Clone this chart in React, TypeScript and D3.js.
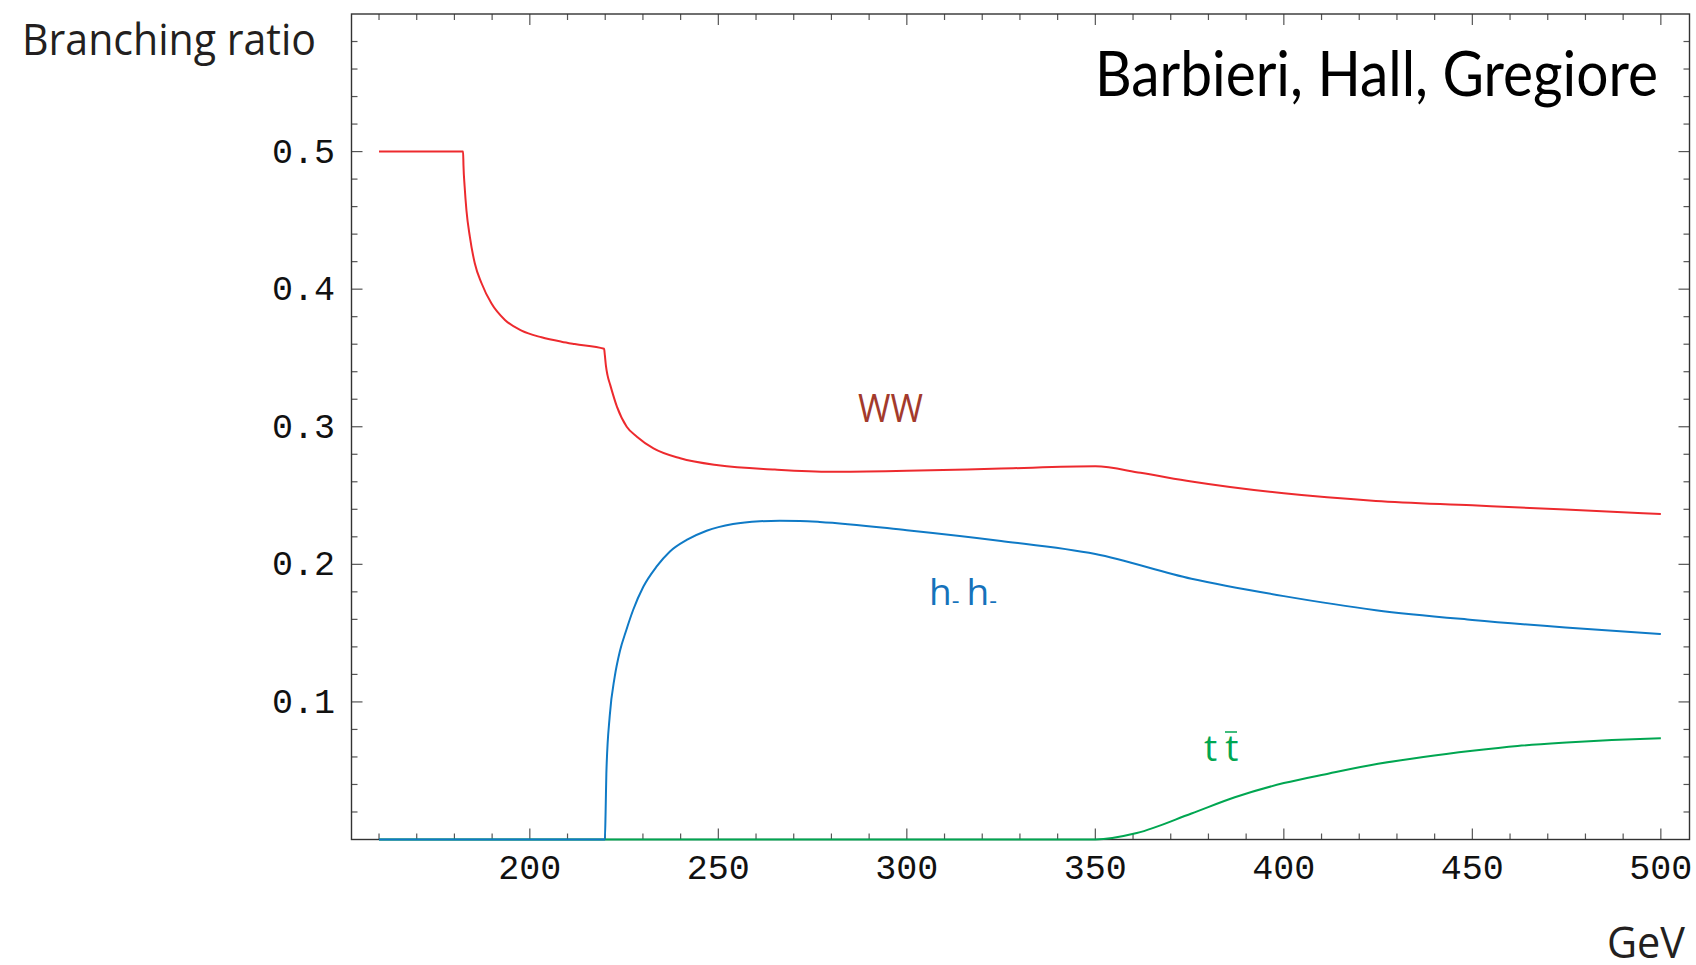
import React from 'react';
import * as d3 from 'd3';

// (GeV, branching ratio)
const wwMass = [160, 182.3, 182.4, 182.7, 183.2, 184.1, 185.4, 187.2, 189.8, 193.4, 197.8, 203.1, 208.4, 211.9, 219.7, 219.9, 220.2, 220.6, 221.3, 223.1, 225.7, 228.4, 232.8, 239.9, 250, 265, 280, 300, 325, 350, 362, 375.5, 400, 424.4, 450, 474.7, 500];
const wwRatio = [0.5, 0.5, 0.49, 0.475, 0.457, 0.438, 0.4188, 0.4043, 0.3897, 0.3776, 0.3698, 0.365, 0.3618, 0.3601, 0.3567, 0.352, 0.344, 0.3375, 0.3306, 0.3146, 0.3, 0.2928, 0.2843, 0.2771, 0.272, 0.2689, 0.2673, 0.268, 0.2696, 0.2712, 0.2665, 0.2602, 0.2516, 0.2461, 0.2429, 0.2398, 0.2366];

const hhMass = [160, 219.9, 220.1, 220.3, 221.2, 222.5, 223.9, 225.6, 227.4, 230.1, 233.6, 237.1, 241.6, 246.9, 253.9, 261, 266.3, 271.6, 276.9, 300, 325, 350, 375.5, 400, 424.4, 450, 474.7, 500];
const hhRatio = [0, 0, 0.02, 0.048, 0.09, 0.118, 0.137, 0.1523, 0.1668, 0.1837, 0.1983, 0.2092, 0.2177, 0.2244, 0.2293, 0.2313, 0.2317, 0.2315, 0.2308, 0.2248, 0.217, 0.2075, 0.1895, 0.1769, 0.1667, 0.1596, 0.1541, 0.1494];

const ttMass = [160, 350, 361, 375.5, 387, 400, 412, 425, 437, 450, 462, 475, 487, 500];
const ttRatio = [0, 0, 0.0047, 0.0189, 0.0307, 0.041, 0.048, 0.055, 0.06, 0.0645, 0.068, 0.0705, 0.0723, 0.0736];

const xTickLabels = [200, 250, 300, 350, 400, 450, 500];
const yTickLabels = [0.1, 0.2, 0.3, 0.4, 0.5];

const W = 1696;
const H = 965;
const left = 351.5, right = 1689.5, top = 14, bottom = 839.5;

export default function App() {
  const x = d3.scaleLinear().domain([152.7, 507.6]).range([left, right]);
  const y = d3.scaleLinear().domain([0, 0.6]).range([bottom, top]);

  const line = d3.line<[number, number]>()
    .x(d => x(d[0]))
    .y(d => y(d[1]))
    .curve(d3.curveMonotoneX);

  const zip = (a: number[], b: number[]) => a.map((m, i) => [m, b[i]] as [number, number]);

  const xMinor = d3.range(160, 501, 10);
  const yMinor = d3.range(1, 30).map(i => i * 0.02);

  const tickColor = '#555';
  const mono = "'Liberation Mono', 'DejaVu Sans Mono', monospace";
  const sans = "'Open Sans', 'Noto Sans', sans-serif";

  return (
    <svg width={W} height={H} style={{ position: 'absolute', left: 0, top: 0, background: '#fff' }}>
      <rect x={0} y={0} width={W} height={H} fill="#fff" />

      {/* ticks, bottom and top */}
      {xMinor.map(v => {
        const len = v % 50 === 0 ? 11 : 6;
        return (
          <g key={'xt' + v} stroke={tickColor} strokeWidth={1.2}>
            <line x1={x(v)} x2={x(v)} y1={bottom} y2={bottom - len} />
            <line x1={x(v)} x2={x(v)} y1={top} y2={top + len} />
          </g>
        );
      })}
      {/* ticks, left and right */}
      {yMinor.map((v, i) => {
        const len = (i + 1) % 5 === 0 ? 11 : 6;
        return (
          <g key={'yt' + i} stroke={tickColor} strokeWidth={1.2}>
            <line x1={left} x2={left + len} y1={y(v)} y2={y(v)} />
            <line x1={right} x2={right - len} y1={y(v)} y2={y(v)} />
          </g>
        );
      })}

      <rect x={left} y={top} width={right - left} height={bottom - top} fill="none" stroke="#333" strokeWidth={1.4} />

      {/* tick labels */}
      {xTickLabels.map(v => (
        <text key={'xl' + v} x={x(v)} y={879} textAnchor="middle" fontFamily={mono} fontSize={35} fill="#111">{v}</text>
      ))}
      {yTickLabels.map(v => (
        <text key={'yl' + v} x={335} y={y(v) + 11} textAnchor="end" fontFamily={mono} fontSize={35} fill="#111">{v.toFixed(1)}</text>
      ))}

      {/* curves */}
      <path d={line(zip(wwMass, wwRatio)) || ''} fill="none" stroke="#ed2a2e" strokeWidth={2} />
      <path d={line(zip(ttMass, ttRatio)) || ''} fill="none" stroke="#00a651" strokeWidth={2} />
      <path d={line(zip(hhMass, hhRatio)) || ''} fill="none" stroke="#0f7ac6" strokeWidth={2} />

      {/* curve labels */}
      <text x={858} y={422} fontFamily={sans} fontSize={38} fill="#a33a2c" textLength={65} lengthAdjust="spacingAndGlyphs">WW</text>
      <text x={929} y={605} fontFamily={sans} fontSize={37} fill="#1572bb">
        h<tspan fontSize={24} dy={4}>-</tspan><tspan dy={-4} dx={7}>h</tspan><tspan fontSize={24} dy={4}>-</tspan>
      </text>
      <text x={1204} y={761} fontFamily={sans} fontSize={37} fill="#00a651">
        t<tspan dx={8}>t</tspan>
      </text>
      <line x1={1225} x2={1237} y1={732} y2={732} stroke="#00a651" strokeWidth={1.5} />

      {/* titles */}
      <text x={22} y={55} fontFamily={sans} fontSize={44} fill="#231f20" textLength={294} lengthAdjust="spacingAndGlyphs">Branching ratio</text>
      <text x={1095} y={96} fontFamily="Lato, 'Open Sans', sans-serif" fontSize={62} fill="#000" textLength={563} lengthAdjust="spacingAndGlyphs">Barbieri, Hall, Gregiore</text>
      <text x={1607} y={958} fontFamily={sans} fontSize={43} fill="#231f20" textLength={78} lengthAdjust="spacingAndGlyphs">GeV</text>
    </svg>
  );
}
